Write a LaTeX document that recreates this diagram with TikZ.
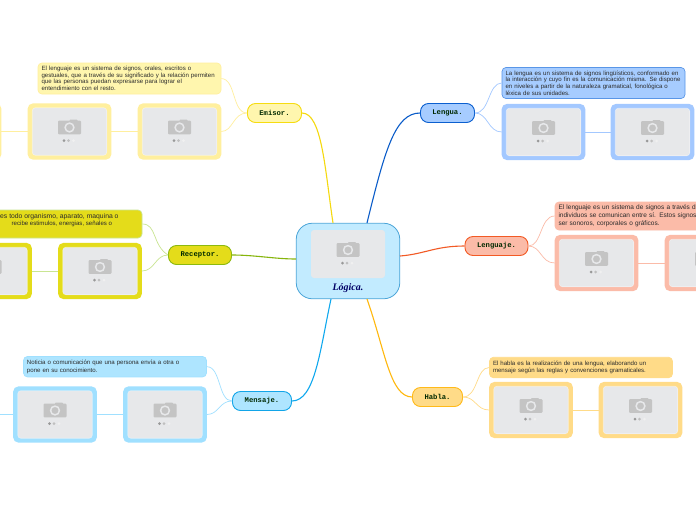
\documentclass[tikz,border=0pt]{standalone}
\usepackage{fontspec}
\setmainfont{Liberation Sans}
\setmonofont{Liberation Mono}
\newfontfamily\logicafont{Liberation Serif}
\definecolor{emF}{HTML}{FFF6AE}\definecolor{emB}{HTML}{F6DC10}\definecolor{emL}{HTML}{FFEF9E}\definecolor{emM}{HTML}{F5D90F}
\definecolor{reF}{HTML}{E4DC1A}\definecolor{reB}{HTML}{8DB90E}\definecolor{reL}{HTML}{C9E592}\definecolor{reM}{HTML}{86B50C}
\definecolor{lgF}{HTML}{A6CCFF}\definecolor{lgB}{HTML}{0B5FCF}\definecolor{lgL}{HTML}{A3C8FF}\definecolor{lgM}{HTML}{0A5CC9}
\definecolor{ljF}{HTML}{FBBBA8}\definecolor{ljB}{HTML}{F25A25}\definecolor{ljL}{HTML}{FBBBA8}\definecolor{ljM}{HTML}{F25A25}
\definecolor{haF}{HTML}{FFDB88}\definecolor{haB}{HTML}{FFBA1A}\definecolor{haL}{HTML}{FFDB88}\definecolor{haM}{HTML}{FFB80D}
\definecolor{meF}{HTML}{AEE5FF}\definecolor{meB}{HTML}{12A5E8}\definecolor{meL}{HTML}{A0E0FF}\definecolor{meM}{HTML}{0FA8EE}
\definecolor{ceF}{HTML}{C2EBFF}\definecolor{ceB}{HTML}{4BA5D8}
\definecolor{phGray}{HTML}{E7E8EA}\definecolor{camGray}{HTML}{C4C4C4}\definecolor{noteText}{HTML}{2B2B2B}
\tikzset{
 topicbox/.style={rectangle,rounded corners=8pt,line width=0.9pt,minimum height=19pt,inner sep=0pt,
   font=\ttfamily\bfseries\fontsize{7.2}{8}\selectfont,text=black!80!green!80!black},
 notebox/.style={rectangle,rounded corners=4pt,line width=0.7pt,inner xsep=3.5pt,inner ysep=0pt,align=left,text width=176pt,
   font=\fontsize{6.1}{6.6}\selectfont,text=noteText},
 photobox/.style={rectangle,rounded corners=4pt,minimum width=81pt,minimum height=53.5pt,inner sep=0pt,line width=2.6pt},
 photoin/.style={rectangle,rounded corners=3pt,fill=phGray,draw=white,draw opacity=.45,line width=.6pt,inner sep=0pt},
 mainline/.style={line width=1.1pt},
 subline/.style={line width=0.7pt}
}
\newcommand{\camera}[2]{%
 \begin{scope}[shift={(#1,#2)}]
  \fill[camGray,rounded corners=1pt] (-11.5,-10.8) rectangle (11.5,2.8);
  \fill[camGray,rounded corners=.8pt] (0,-12) rectangle (8,-8);
  \fill[camGray] (0,-4) circle (6.5pt);
  \draw[phGray,line width=1.5pt] (0,-4) circle (4.4pt);
  \fill[gray!80] (-5.5,9) circle (1.5pt);
  \fill[gray!50] (-1,9) circle (1.5pt);
  \fill[gray!12] (4,9) circle (1.5pt);
 \end{scope}}
\newcommand{\photo}[4]{% name, cx, cy, colour
 \node[photobox,draw=#4,fill=#4] (#1) at (#2,#3) {};
 \node[photoin,minimum width=74.5pt,minimum height=47.5pt] (#1in) at (#2,#3) {};
 \camera{#2}{#3}}
\begin{document}
\begin{tikzpicture}[x=1pt,y=-1pt]
\useasboundingbox (0,0) rectangle (696,520);
\fill[white] (0,0) rectangle (696,520);
\clip (0,0) rectangle (696,520);

% ---------- connector ends on the rim of the centre ----------
\coordinate (cE) at (333,223); \coordinate (cL) at (367,223); \coordinate (cJ) at (400,256);
\coordinate (cR) at (296,259); \coordinate (cM) at (331,299); \coordinate (cH) at (367,299);

% ---------- nodes ----------
\node[rectangle,rounded corners=16pt,fill=ceF,draw=ceB,line width=.8pt,minimum width=103.5pt,minimum height=75.5pt,inner sep=0pt] (center) at (348,261) {};
\node[photoin,minimum width=74pt,minimum height=48pt,draw=none] (centerph) at (348,254) {};
\camera{348}{254}
\node[inner sep=0pt,text=blue!40!black,font=\logicafont\bfseries\itshape\fontsize{10}{11}\selectfont] (logica) at (348,288) {Lógica.};

\node[topicbox,fill=emF,draw=emB,minimum width=54pt] (emisor) at (274.5,113) {Emisor.};
\node[topicbox,fill=reF,draw=reB,minimum width=63pt] (receptor) at (200,255) {Receptor.};
\node[topicbox,fill=meF,draw=meB,minimum width=59pt] (mensaje) at (262,401) {Mensaje.};
\node[topicbox,fill=lgF,draw=lgB,minimum width=54pt] (lengua) at (447.5,113) {Lengua.};
\node[topicbox,fill=ljF,draw=ljB,minimum width=63pt] (lenguaje) at (496.5,246) {Lenguaje.};
\node[topicbox,fill=haF,draw=haB,minimum width=50pt] (habla) at (437.5,397) {Habla.};

\node[notebox,fill=emF,draw=emL,minimum height=31pt] (emNote) at (129.5,78.5)
 {El lenguaje es un sistema de signos, orales, escritos o\\gestuales, que a través de su significado y la relación permiten\\que las personas puedan expresarse para lograr el\\entendimiento con el resto.};
\node[rectangle,rounded corners=4pt,line width=.7pt,fill=reF,draw=reL,minimum width=183pt,minimum height=28pt,inner sep=0pt] (reNote) at (50.5,224) {};
\node[inner sep=0pt,align=left,font=\fontsize{6.1}{7.2}\selectfont,text=noteText,anchor=north west] (reText) at (0,213)
 {{\fontsize{6.8}{7.2}\selectfont es todo organismo, aparato, maquina o}\\\hspace*{11.5pt}recibe estimulos, energias, señales o};
\node[notebox,fill=meF,draw=meL,minimum height=20.5pt,font=\fontsize{6.1}{7.8}\selectfont] (meNote) at (115,366.7)
 {Noticia o comunicación que una persona envía a otra o\\pone en su conocimiento.};
\node[notebox,fill=lgF,draw=lgB!50!lgF,minimum height=31pt] (lgNote) at (593.5,83)
 {La lengua es un sistema de signos lingüísticos, conformado en\\la interacción y cuyo fin es la comunicación misma. Se dispone\\en niveles a partir de la naturaleza gramatical, fonológica o\\léxica de sus unidades.};
\node[notebox,fill=ljF,draw=ljL,minimum height=28pt,font=\fontsize{6.5}{7.8}\selectfont] (ljNote) at (646.5,216)
 {El lenguaje es un sistema de signos a través de\\individuos se comunican entre sí. Estos signos\\ser sonoros, corporales o gráficos.};
\node[notebox,fill=haF,draw=haL,minimum height=20.5pt,font=\fontsize{6.1}{7.2}\selectfont] (haNote) at (581,367.5)
 {El habla es la realización de una lengua, elaborando un\\mensaje según las reglas y convenciones gramaticales.};

\photo{em1}{179.5}{131.5}{emL}\photo{em2}{69.5}{131.5}{emL}\photo{em3}{-40.5}{131.5}{emL}
\photo{re1}{100}{271}{reF}\photo{re2}{-10}{271}{reF}
\photo{me1}{165}{414.5}{meL}\photo{me2}{55}{414.5}{meL}\photo{me3}{-55}{414.5}{meL}
\photo{lg1}{543.5}{132}{lgL}\photo{lg2}{652.5}{132}{lgL}
\photo{lj1}{596.5}{263}{ljL}\photo{lj2}{706.5}{263}{ljL}
\photo{ha1}{531}{410}{haL}\photo{ha2}{640.5}{410}{haL}

\draw[mainline,emM] (emisor.east) .. controls (322,113) and (325,170) .. (cE);
\draw[mainline,reM] (receptor.east) .. controls (255,255) and (275,259) .. (cR);
\draw[mainline,meM] (mensaje.east) .. controls (315,401) and (320,350) .. (cM);
\draw[mainline,lgM] (lengua.west) .. controls (395,113) and (385,150) .. (cL);
\draw[mainline,ljM] (lenguaje.west) .. controls (435,246) and (425,254) .. (cJ);
\draw[mainline,haM] (habla.west) .. controls (390,397) and (385,350) .. (cH);

\draw[subline,emL] (emisor.west) .. controls (232,113) and (236,79) .. (emNote.east);
\draw[subline,emL] (emisor.west) .. controls (233,113) and (233,131.5) .. (em1.east);
\draw[subline,emL] (em1.west) -- (em2.east);
\draw[subline,emL] (em2.west) -- (em3.east);

\draw[subline,reL] (receptor.west) .. controls (152,245) and (157,224) .. (reNote.east);
\draw[subline,reL] (receptor.west) .. controls (155,255) and (155,271) .. (re1.east);
\draw[subline,reL] (re1.west) -- (re2.east);

\draw[subline,meL] (mensaje.west) .. controls (218,401) and (221,366.5) .. (meNote.east);
\draw[subline,meL] (mensaje.west) .. controls (219,401) and (219,414.5) .. (me1.east);
\draw[subline,meL] (me1.west) -- (me2.east);
\draw[subline,meL] (me2.west) -- (me3.east);

\draw[subline,lgL] (lengua.east) .. controls (490,113) and (488,83) .. (lgNote.west);
\draw[subline,lgL] (lengua.east) .. controls (488,113) and (488,132) .. (lg1.west);
\draw[subline,lgL] (lg1.east) -- (lg2.west);

\draw[subline,ljL] (lenguaje.east) .. controls (542,246) and (540,216) .. (ljNote.west);
\draw[subline,ljL] (lenguaje.east) .. controls (541,246) and (541,263) .. (lj1.west);
\draw[subline,ljL] (lj1.east) -- (lj2.west);

\draw[subline,haL] (habla.east) .. controls (478,397) and (476,367.5) .. (haNote.west);
\draw[subline,haL] (habla.east) .. controls (476,397) and (476,410) .. (ha1.west);
\draw[subline,haL] (ha1.east) -- (ha2.west);
\end{tikzpicture}
\end{document}
